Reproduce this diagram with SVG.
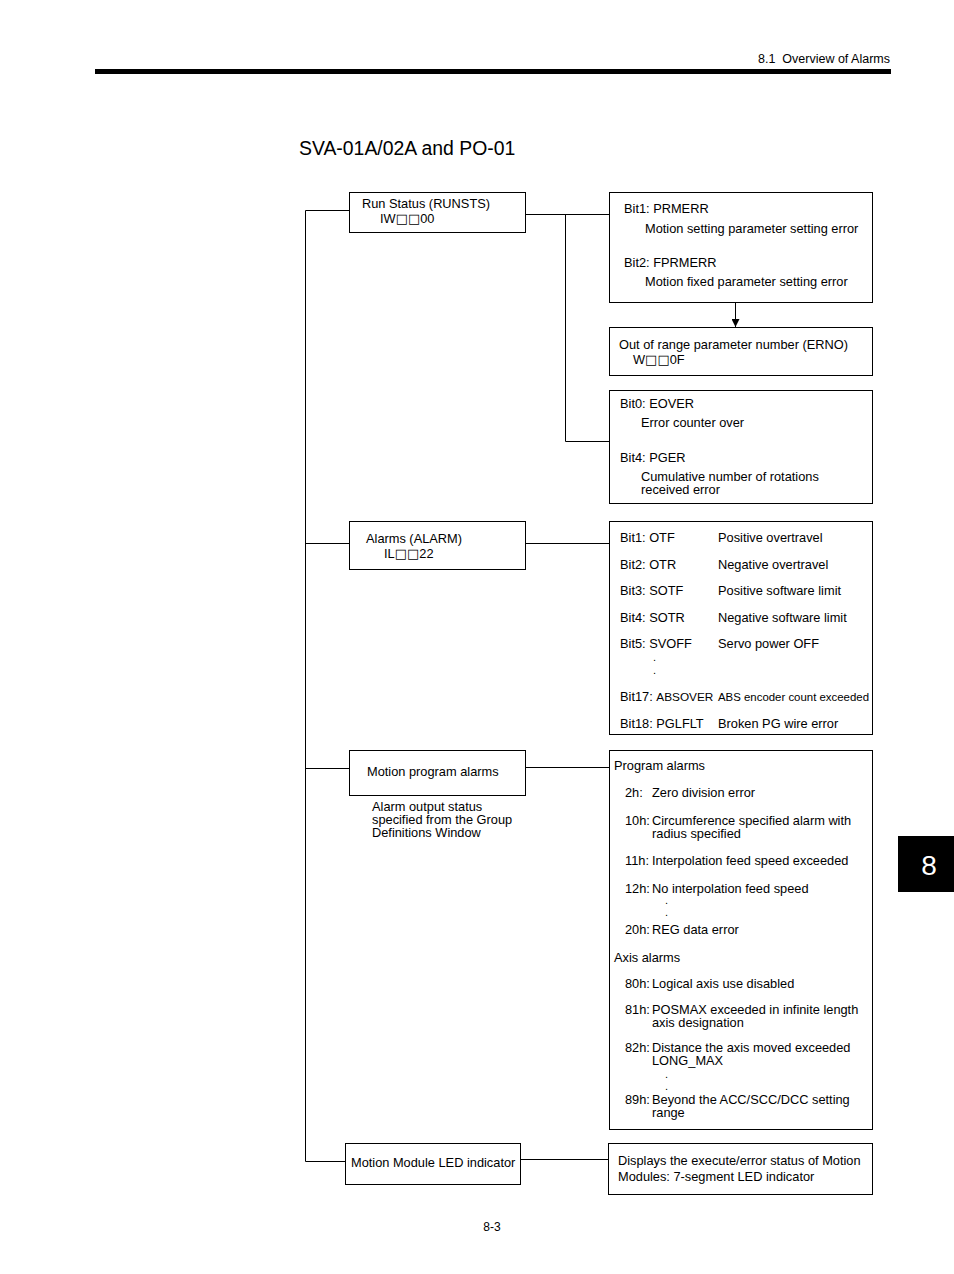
<svg xmlns="http://www.w3.org/2000/svg" width="954" height="1274" viewBox="0 0 954 1274">
<defs>
<style>
.t{font-family:"Liberation Sans",Arial,sans-serif;font-size:12.8px;fill:#000}
.s{font-family:"Liberation Sans",Arial,sans-serif;font-size:11.5px;fill:#000}
.sq{font-family:"DejaVu Sans",sans-serif;font-size:13px}
.dot{font-family:"Liberation Sans",Arial,sans-serif;font-size:11px;fill:#000}
.box{fill:#fff;stroke:#000;stroke-width:1}
.ln{fill:none;stroke:#000;stroke-width:1}
</style>
<marker id="ah" viewBox="0 0 10 10" refX="10" refY="5" markerWidth="8" markerHeight="8" orient="auto" markerUnits="userSpaceOnUse"><path d="M0,0 L10,5 L0,10 z" fill="#000"/></marker>
</defs>
<rect x="0" y="0" width="954" height="1274" fill="#fff"/>
<g id="header">
<text class="t" x="890" y="63" text-anchor="end" style="font-size:12.5px;white-space:pre">8.1  Overview of Alarms</text>
<rect x="95" y="69" width="796" height="5" fill="#000"/>
<text x="299" y="155" style="font-family:'Liberation Sans',Arial,sans-serif;font-size:19.4px">SVA-01A/02A and PO-01</text>
</g>
<g id="connectors">
<path class="ln" d="M349.5,210.5 H305.5 V1161.5 H345.5"/>
<path class="ln" d="M305.5,543.5 H349.5"/>
<path class="ln" d="M305.5,768.5 H349.5"/>
<path class="ln" d="M525.5,214.5 H609.5"/>
<path class="ln" d="M565.5,214.5 V441.5 H609.5"/>
<path class="ln" d="M735.5,302.5 V327" marker-end="url(#ah)"/>
<path class="ln" d="M525.5,543.5 H609.5"/>
<path class="ln" d="M525.5,767.5 H609.5"/>
<path class="ln" d="M520.5,1159.5 H608.5"/>
</g>
<g id="runsts">
<rect class="box" x="349.5" y="192.5" width="176" height="40"/>
<text class="t" x="362" y="208">Run Status (RUNSTS)</text>
<text class="t" x="380" y="223">IW<tspan class="sq">□□</tspan>00</text>
</g>
<g id="prmerr">
<rect class="box" x="609.5" y="192.5" width="263" height="110"/>
<text class="t" x="624" y="213">Bit1: PRMERR</text>
<text class="t" x="645" y="233">Motion setting parameter setting error</text>
<text class="t" x="624" y="267">Bit2: FPRMERR</text>
<text class="t" x="645" y="286">Motion fixed parameter setting error</text>
</g>
<g id="erno">
<rect class="box" x="609.5" y="327.5" width="263" height="48"/>
<text class="t" x="619" y="349">Out of range parameter number (ERNO)</text>
<text class="t" x="633" y="364">W<tspan class="sq">□□</tspan>0F</text>
</g>
<g id="eover">
<rect class="box" x="609.5" y="390.5" width="263" height="113"/>
<text class="t" x="620" y="408">Bit0: EOVER</text>
<text class="t" x="641" y="427">Error counter over</text>
<text class="t" x="620" y="462">Bit4: PGER</text>
<text class="t" x="641" y="481">Cumulative number of rotations</text>
<text class="t" x="641" y="494">received error</text>
</g>
<g id="alarm">
<rect class="box" x="349.5" y="521.5" width="176" height="48"/>
<text class="t" x="366" y="543">Alarms (ALARM)</text>
<text class="t" x="384" y="558">IL<tspan class="sq">□□</tspan>22</text>
</g>
<g id="alarmbits">
<rect class="box" x="609.5" y="521.5" width="263" height="213"/>
<text class="t" x="620" y="542">Bit1: OTF</text><text class="t" x="718" y="542">Positive overtravel</text>
<text class="t" x="620" y="569">Bit2: OTR</text><text class="t" x="718" y="569">Negative overtravel</text>
<text class="t" x="620" y="595">Bit3: SOTF</text><text class="t" x="718" y="595">Positive software limit</text>
<text class="t" x="620" y="622">Bit4: SOTR</text><text class="t" x="718" y="622">Negative software limit</text>
<text class="t" x="620" y="648">Bit5: SVOFF</text><text class="t" x="718" y="648">Servo power OFF</text>
<text class="dot" x="653" y="661">.</text>
<text class="dot" x="653" y="674">.</text>
<text class="t" x="620" y="701">Bit17: <tspan style="font-size:11.8px">ABSOVER</tspan></text>
<text class="s" x="718" y="701" textLength="151" lengthAdjust="spacingAndGlyphs">ABS encoder count exceeded</text>
<text class="t" x="620" y="728">Bit18: PGLFLT</text><text class="t" x="718" y="728">Broken PG wire error</text>
</g>
<g id="progalarm">
<rect class="box" x="349.5" y="750.5" width="176" height="45"/>
<text class="t" x="367" y="776">Motion program alarms</text>
<text class="t" x="372" y="811">Alarm output status</text>
<text class="t" x="372" y="824">specified from the Group</text>
<text class="t" x="372" y="837">Definitions Window</text>
</g>
<g id="progalarmlist">
<rect class="box" x="609.5" y="750.5" width="263" height="379"/>
<text class="t" x="614" y="770">Program alarms</text>
<text class="t" x="625" y="797">2h:</text><text class="t" x="652" y="797">Zero division error</text>
<text class="t" x="625" y="825">10h:</text><text class="t" x="652" y="825">Circumference specified alarm with</text>
<text class="t" x="652" y="838">radius specified</text>
<text class="t" x="625" y="865">11h:</text><text class="t" x="652" y="865">Interpolation feed speed exceeded</text>
<text class="t" x="625" y="893">12h:</text><text class="t" x="652" y="893">No interpolation feed speed</text>
<text class="dot" x="665" y="904">.</text>
<text class="dot" x="665" y="916">.</text>
<text class="t" x="625" y="934">20h:</text><text class="t" x="652" y="934">REG data error</text>
<text class="t" x="614" y="962">Axis alarms</text>
<text class="t" x="625" y="988">80h:</text><text class="t" x="652" y="988">Logical axis use disabled</text>
<text class="t" x="625" y="1014">81h:</text><text class="t" x="652" y="1014">POSMAX exceeded in infinite length</text>
<text class="t" x="652" y="1027">axis designation</text>
<text class="t" x="625" y="1052">82h:</text><text class="t" x="652" y="1052">Distance the axis moved exceeded</text>
<text class="t" x="652" y="1065">LONG_MAX</text>
<text class="dot" x="665" y="1078">.</text>
<text class="dot" x="665" y="1090">.</text>
<text class="t" x="625" y="1104">89h:</text><text class="t" x="652" y="1104">Beyond the ACC/SCC/DCC setting</text>
<text class="t" x="652" y="1117">range</text>
</g>
<g id="led">
<rect class="box" x="345.5" y="1143.5" width="175" height="41"/>
<text class="t" x="351" y="1167">Motion Module LED indicator</text>
</g>
<g id="ledinfo">
<rect class="box" x="608.5" y="1143.5" width="264" height="51"/>
<text class="t" x="618" y="1165">Displays the execute/error status of Motion</text>
<text class="t" x="618" y="1181">Modules: 7-segment LED indicator</text>
</g>
<g id="tab">
<rect x="898" y="836" width="56" height="56" fill="#000"/>
<text x="929" y="875" text-anchor="middle" style="font-family:'Liberation Sans',Arial,sans-serif;font-size:28px;fill:#fff">8</text>
</g>
<text class="t" x="492" y="1231" text-anchor="middle" style="font-size:12px">8-3</text>
</svg>
